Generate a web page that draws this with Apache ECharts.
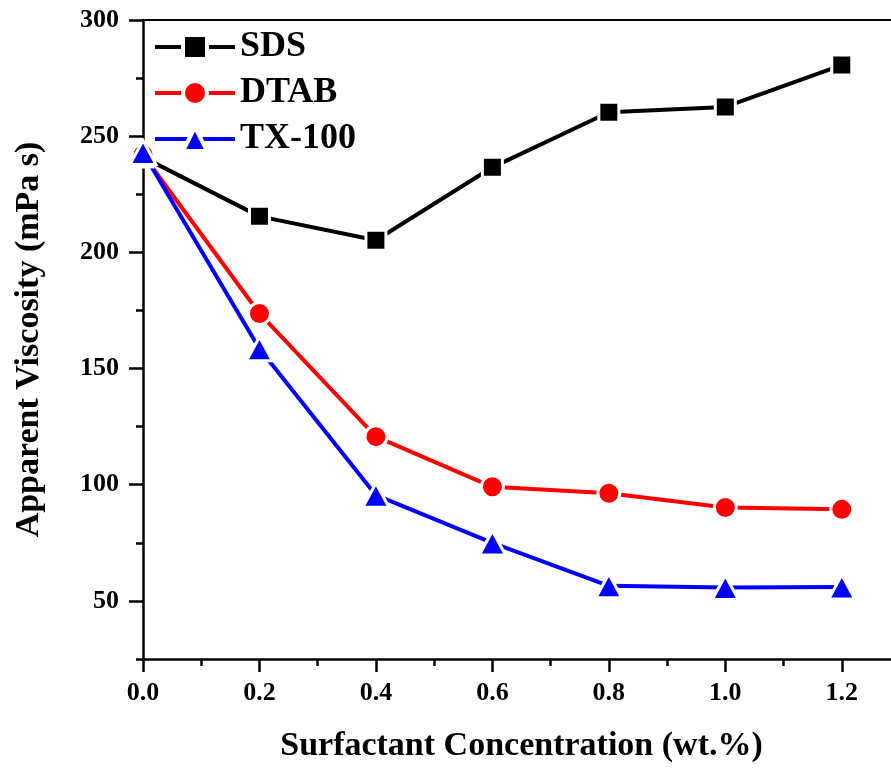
<!DOCTYPE html>
<html>
<head>
<meta charset="utf-8">
<script src="https://cdn.jsdelivr.net/npm/echarts@6/dist/echarts.min.js"></script>
<style>
  html, body { margin: 0; padding: 0; background: #fff; overflow: hidden; }
  /* a bit wider than the window: the original figure is cut off at the right */
  #chart { width: 900px; height: 769px; }
</style>
</head>
<body>
<div id="chart"></div>
<script>
// data
const concentration = [0, 0.2, 0.4, 0.6, 0.8, 1.0, 1.2]
const sdsValues = [241, 215.5, 205.2, 236.6, 260.3, 262.6, 280.6]
const dtabValues = [242, 173.7, 120.7, 99.1, 96.3, 90.2, 89.4]
const txValues = [243, 158.5, 95.5, 75, 56.5, 55.8, 56]
const seriesNames = ['SDS', 'DTAB', 'TX-100']
// y tick marks every 25, the labelled ones get the long tick
const yTickValues = ['25', '50', '75', '100', '125', '150', '175', '200', '225', '250', '275', '300']
const yLabelled = ['50', '100', '150', '200', '250', '300']

const font = 'Liberation Serif'
const chart = echarts.init(document.getElementById('chart'))

const pairs = vals => concentration.map((c, i) => [c, vals[i]])

function lineSeries(name, vals, color, symbol, size) {
  return {
    name: name,
    type: 'line',
    data: pairs(vals),
    symbol: symbol,
    symbolSize: size,
    clip: false,
    lineStyle: { color: color, width: 4 },
    itemStyle: { color: color, borderColor: '#fff', borderWidth: 3 },
    emphasis: { disabled: true }
  }
}

const tickStyle = { color: '#000', width: 2.5 }
const labelStyle = { fontFamily: font, fontWeight: 'bold', fontSize: 26, color: '#000' }
const titleStyle = { fontFamily: font, fontWeight: 'bold', fontSize: 34, color: '#000' }
const xMax = 1.3

const option = {
  animation: false,
  backgroundColor: '#fff',
  grid: { left: 143, top: 20, bottom: 110, right: 0, containLabel: false },
  legend: {
    orient: 'vertical',
    left: 153,
    top: 29,
    padding: 0,
    itemWidth: 80,
    itemHeight: 30,
    itemGap: 10,
    lineStyle: { width: 4 },
    itemStyle: { borderColor: '#fff', borderWidth: 4 },
    data: seriesNames,
    textStyle: { fontFamily: font, fontWeight: 'bold', fontSize: 36, color: '#000', lineHeight: 36 }
  },
  xAxis: [
    {
      // minor ticks
      type: 'value',
      min: 0,
      max: xMax,
      interval: 0.1,
      name: 'Surfactant Concentration (wt.%)',
      nameLocation: 'middle',
      nameGap: 70,
      nameTextStyle: titleStyle,
      axisLine: { lineStyle: { color: '#000', width: 2.5 } },
      axisTick: { inside: false, length: 7, lineStyle: tickStyle },
      axisLabel: { show: false },
      splitLine: { show: false }
    },
    {
      // major ticks and labels
      type: 'value',
      position: 'bottom',
      min: 0,
      max: xMax,
      interval: 0.2,
      axisLine: { show: false },
      axisTick: { inside: false, length: 13, lineStyle: tickStyle },
      axisLabel: Object.assign({ margin: 21, showMaxLabel: false, formatter: v => v.toFixed(1) }, labelStyle),
      splitLine: { show: false }
    },
    {
      // top frame line
      type: 'value',
      position: 'top',
      min: 0,
      max: xMax,
      axisLine: { show: true, lineStyle: { color: '#000', width: 2 } },
      axisTick: { show: false },
      axisLabel: { show: false },
      splitLine: { show: false }
    }
  ],
  yAxis: [
    {
      type: 'value',
      min: 25,
      max: 300,
      interval: 25,
      name: 'Apparent Viscosity (mPa s)',
      nameLocation: 'middle',
      nameGap: 97,
      nameTextStyle: titleStyle,
      axisLine: { show: true, lineStyle: { color: '#000', width: 2.5 } },
      axisTick: { show: true, inside: false, length: 7, lineStyle: tickStyle },
      axisLabel: { show: false },
      splitLine: { show: false }
    },
    {
      // major ticks and labels
      type: 'category',
      position: 'left',
      boundaryGap: false,
      data: yTickValues,
      axisLine: { show: false },
      axisTick: {
        show: true,
        inside: false,
        length: 14,
        interval: (i, v) => yLabelled.includes(v),
        lineStyle: tickStyle
      },
      axisLabel: Object.assign({ margin: 24, interval: (i, v) => yLabelled.includes(v) }, labelStyle),
      splitLine: { show: false }
    }
  ],
  series: [
    lineSeries('SDS', sdsValues, '#000000', 'rect', 20),
    lineSeries('DTAB', dtabValues, '#ff0000', 'circle', 22),
    lineSeries('TX-100', txValues, '#0000ff', 'triangle', [26, 24])
  ]
}

option && chart.setOption(option)
</script>
</body>
</html>
